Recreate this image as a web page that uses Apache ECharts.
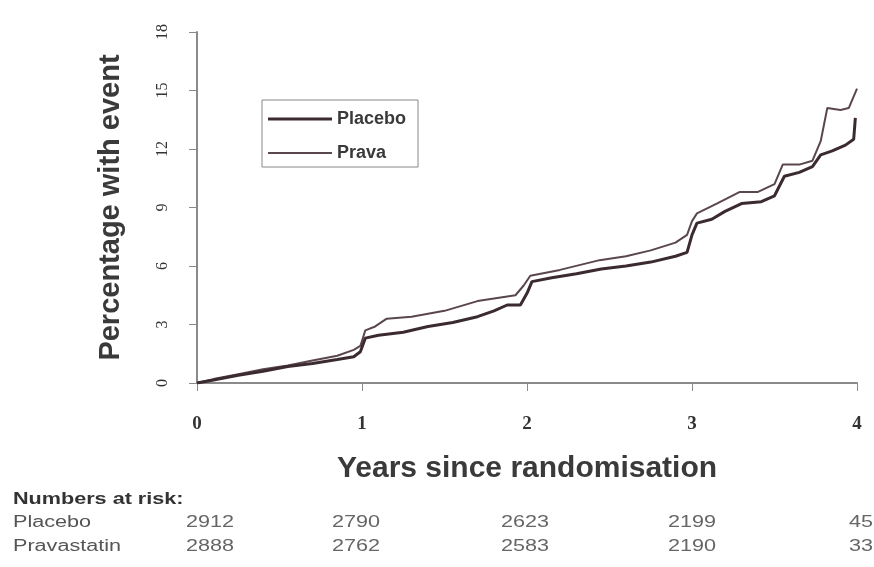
<!DOCTYPE html>
<html>
<head>
<meta charset="utf-8">
<title>Percentage with event</title>
<script src="https://cdn.jsdelivr.net/npm/echarts@6/dist/echarts.min.js"></script>
<style>
  html, body { margin: 0; padding: 0; background: #fff; }
  #main { width: 874px; height: 567px; }
</style>
</head>
<body>
<div id="main"></div>
<script>
// curve points (years, % with event)
var placeboYears = [0, 0.1, 0.25, 0.4, 0.55, 0.7, 0.85, 0.95, 0.99, 1.02, 1.1, 1.25, 1.4, 1.55, 1.7, 1.8, 1.88, 1.96, 2.0, 2.03, 2.15, 2.3, 2.45, 2.6, 2.75, 2.9, 2.97, 3.0, 3.03, 3.12, 3.2, 3.3, 3.42, 3.5, 3.56, 3.65, 3.73, 3.78, 3.85, 3.93, 3.98, 3.99]
var placeboPct = [0, 0.15, 0.4, 0.6, 0.85, 1.0, 1.2, 1.35, 1.6, 2.3, 2.45, 2.6, 2.9, 3.1, 3.4, 3.7, 4.0, 4.0, 4.6, 5.2, 5.4, 5.6, 5.85, 6.0, 6.2, 6.5, 6.7, 7.6, 8.2, 8.4, 8.8, 9.2, 9.3, 9.6, 10.6, 10.8, 11.1, 11.7, 11.9, 12.2, 12.5, 13.6]
var pravaYears = [0, 0.1, 0.25, 0.4, 0.55, 0.7, 0.85, 0.95, 0.99, 1.02, 1.08, 1.15, 1.3, 1.5, 1.7, 1.85, 1.93, 1.98, 2.02, 2.2, 2.44, 2.6, 2.75, 2.9, 2.97, 3.0, 3.03, 3.15, 3.29, 3.4, 3.5, 3.55, 3.65, 3.73, 3.78, 3.82, 3.9, 3.95, 4.0]
var pravaPct = [0, 0.2, 0.45, 0.7, 0.9, 1.15, 1.4, 1.7, 1.9, 2.7, 2.9, 3.3, 3.4, 3.7, 4.2, 4.4, 4.5, 5.0, 5.5, 5.8, 6.3, 6.5, 6.8, 7.2, 7.6, 8.3, 8.7, 9.2, 9.8, 9.8, 10.2, 11.2, 11.2, 11.4, 12.4, 14.1, 14.0, 14.1, 15.1]

var yTicks = [0, 3, 6, 9, 12, 15, 18]

// numbers at risk table
var riskYears = [0, 1, 2, 3, 4]
var riskPlacebo = [2912, 2790, 2623, 2199, 45]
var riskPrava = [2888, 2762, 2583, 2190, 33]

function pairs(xs, ys) {
  return xs.map(function (x, i) { return [x, ys[i]] })
}

var chart = echarts.init(document.getElementById('main'), null, { renderer: 'canvas' })

var axisGrey = '#8a8a8a'
var sansFont = 'Liberation Sans, Arial, sans-serif'
var serifFont = 'Liberation Serif, Times New Roman, serif'

chart.setOption({
  backgroundColor: '#fff',
  animation: false,
  grid: { left: 197, right: 17, top: 32, bottom: 184 },
  legend: {
    orient: 'vertical',
    left: 262,
    top: 100,
    // thin bars instead of the line+dot icon, placebo a bit heavier
    data: [
      { name: 'Placebo', icon: 'path://M0,0H62V3H0Z' },
      { name: 'Prava', icon: 'path://M0,0H62V2H0Z' }
    ],
    itemWidth: 64,
    itemHeight: 4,
    itemGap: 16,
    padding: [10, 12, 5, 6],
    borderColor: '#888',
    borderWidth: 1,
    borderRadius: 0,
    textStyle: {
      fontFamily: sansFont,
      fontWeight: 'bold',
      fontSize: 18,
      color: '#3a3a3a'
    }
  },
  xAxis: {
    type: 'value',
    min: 0,
    max: 4,
    interval: 1,
    name: 'Years since randomisation',
    nameLocation: 'middle',
    nameGap: 71,
    nameTextStyle: {
      fontFamily: sansFont,
      fontWeight: 'bold',
      fontSize: 30,
      color: '#3a3a3a'
    },
    axisLine: { lineStyle: { color: axisGrey, width: 2 } },
    axisTick: { show: true, length: 8, lineStyle: { color: axisGrey } },
    axisLabel: {
      margin: 32,
      fontFamily: serifFont,
      fontWeight: 'bold',
      fontSize: 19,
      color: '#333'
    },
    splitLine: { show: false }
  },
  yAxis: {
    type: 'value',
    min: 0,
    max: 18,
    interval: 3,
    name: 'Percentage with event',
    nameLocation: 'middle',
    nameGap: 72,
    nameTextStyle: {
      fontFamily: sansFont,
      fontWeight: 'bold',
      fontSize: 29,
      color: '#3a3a3a'
    },
    axisLine: { show: true, lineStyle: { color: axisGrey, width: 2 } },
    axisTick: { show: true, length: 8, lineStyle: { color: axisGrey } },
    axisLabel: {
      rotate: 90,
      margin: 26,
      fontFamily: serifFont,
      fontSize: 16,
      color: '#333',
      formatter: function (v) { return yTicks.indexOf(v) >= 0 ? String(v) : '' }
    },
    splitLine: { show: false }
  },
  series: [
    {
      name: 'Placebo',
      type: 'line',
      symbol: 'none',
      data: pairs(placeboYears, placeboPct),
      lineStyle: { color: '#3b2a2f', width: 3 },
      itemStyle: { color: '#3b2a2f' },
      z: 3
    },
    {
      name: 'Prava',
      type: 'line',
      symbol: 'none',
      data: pairs(pravaYears, pravaPct),
      lineStyle: { color: '#5a474b', width: 2 },
      itemStyle: { color: '#5a474b' },
      z: 2
    }
  ]
})

// numbers-at-risk rows under the axis, columns follow the year ticks
// (scan is stretched sideways, so the text gets a scaleX)
var colNudge = [13, -6, -2, 0, 4]
var stretch = 1.35
function tableText(txt, x, y, opts) {
  return {
    type: 'text',
    x: x,
    y: y,
    scaleX: stretch,
    style: {
      text: txt,
      font: (opts.bold ? 'bold ' : '') + '16px ' + sansFont,
      fill: opts.fill,
      align: opts.align || 'left',
      verticalAlign: 'middle'
    }
  }
}
var graphics = [
  tableText('Numbers at risk:', 13, 500, { bold: true, fill: '#333' }),
  tableText('Placebo', 13, 523, { fill: '#555' }),
  tableText('Pravastatin', 13, 547, { fill: '#555' })
]
riskYears.forEach(function (yr, i) {
  var px = chart.convertToPixel({ xAxisIndex: 0 }, yr) + colNudge[i]
  graphics.push(tableText(String(riskPlacebo[i]), px, 523, { fill: '#666', align: 'center' }))
  graphics.push(tableText(String(riskPrava[i]), px, 547, { fill: '#666', align: 'center' }))
})
chart.setOption({ graphic: graphics })
</script>
</body>
</html>
